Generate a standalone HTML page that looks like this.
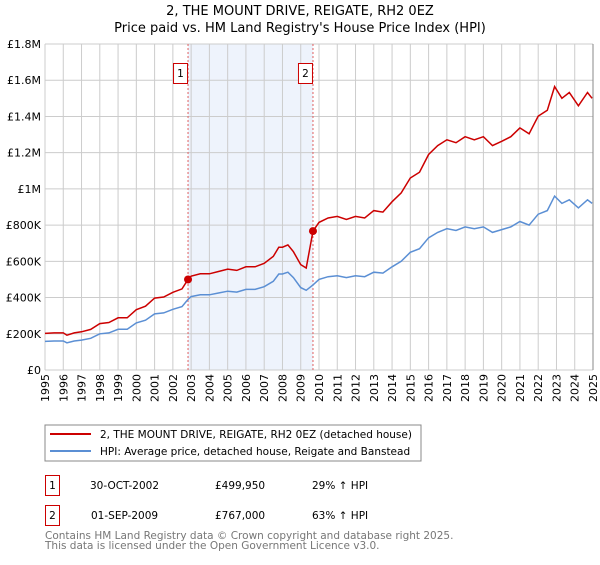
<!DOCTYPE html>
<html><head><meta charset="utf-8"><style>
body{margin:0;background:#fff;font-family:"Liberation Sans","DejaVu Sans",sans-serif;}
svg text{font-family:"DejaVu Sans","Liberation Sans",sans-serif;}
</style></head><body>
<svg id="c" width="600" height="560" xmlns="http://www.w3.org/2000/svg">
<text x="300" y="15" text-anchor="middle" font-size="13" fill="#000">2, THE MOUNT DRIVE, REIGATE, RH2 0EZ</text>
<text x="300" y="32" text-anchor="middle" font-size="13" fill="#000">Price paid vs. HM Land Registry's House Price Index (HPI)</text>
<g id="plot"></g>
<rect x="45" y="425" width="376" height="36" fill="#fff" stroke="#888"/>
<line x1="50" y1="434" x2="91" y2="434" stroke="#cc0000" stroke-width="2"/>
<text x="100" y="438" font-size="10.5">2, THE MOUNT DRIVE, REIGATE, RH2 0EZ (detached house)</text>
<line x1="50" y1="451" x2="91" y2="451" stroke="#5b8fd4" stroke-width="2"/>
<text x="100" y="455" font-size="10.5">HPI: Average price, detached house, Reigate and Banstead</text>
<rect x="45.5" y="475.5" width="14" height="20" fill="#fff" stroke="#cc0000"/>
<text x="52.5" y="489" font-size="10.5" text-anchor="middle">1</text>
<text x="90" y="489" font-size="10.5">30-OCT-2002</text>
<text x="215" y="489" font-size="10.5">£499,950</text>
<text x="312" y="489" font-size="10.5">29% ↑ HPI</text>
<rect x="45.5" y="505.5" width="14" height="20" fill="#fff" stroke="#cc0000"/>
<text x="52.5" y="519" font-size="10.5" text-anchor="middle">2</text>
<text x="91" y="519" font-size="10.5">01-SEP-2009</text>
<text x="215" y="519" font-size="10.5">£767,000</text>
<text x="312" y="519" font-size="10.5">63% ↑ HPI</text>
<text x="45" y="539" font-size="10.5" fill="#777">Contains HM Land Registry data © Crown copyright and database right 2025.</text>
<text x="45" y="549" font-size="10.5" fill="#777">This data is licensed under the Open Government Licence v3.0.</text>
</svg>
<script>
const yTicks=[0,200000,400000,600000,800000,1000000,1200000,1400000,1600000,1800000];
const yLabels=["£0","£200K","£400K","£600K","£800K","£1M","£1.2M","£1.4M","£1.6M","£1.8M"];
const xYears=[1995,1996,1997,1998,1999,2000,2001,2002,2003,2004,2005,2006,2007,2008,2009,2010,2011,2012,2013,2014,2015,2016,2017,2018,2019,2020,2021,2022,2023,2024,2025];
const hpiT=[1995,1995.5,1996,1996.2,1996.6,1997,1997.5,1998,1998.5,1999,1999.5,2000,2000.5,2001,2001.5,2002,2002.5,2002.83,2003,2003.5,2004,2004.5,2005,2005.5,2006,2006.5,2007,2007.5,2007.8,2008,2008.3,2008.6,2009,2009.3,2009.67,2010,2010.5,2011,2011.5,2012,2012.5,2013,2013.5,2014,2014.5,2015,2015.5,2016,2016.5,2017,2017.5,2018,2018.5,2019,2019.5,2020,2020.5,2021,2021.5,2022,2022.5,2022.9,2023.3,2023.7,2024.2,2024.7,2024.95];
const hpiV=[158000,160000,160000,150000,160000,165000,175000,200000,205000,225000,225000,260000,275000,310000,315000,335000,350000,390000,405000,415000,415000,425000,435000,430000,445000,445000,460000,490000,530000,530000,540000,510000,455000,440000,470000,500000,515000,520000,510000,520000,515000,540000,535000,570000,600000,650000,670000,730000,760000,780000,770000,790000,780000,790000,760000,775000,790000,820000,800000,860000,880000,960000,920000,940000,895000,940000,920000];
const redT=hpiT;
const redV=[202000,205000,205000,192000,205000,211000,224000,256000,262000,288000,288000,333000,352000,397000,403000,429000,448000,499950,518000,531000,531000,544000,557000,550000,570000,570000,589000,627000,678000,678000,691000,653000,582000,563000,767000,815000,839000,848000,831000,848000,839000,880000,872000,929000,978000,1060000,1092000,1190000,1239000,1271000,1255000,1288000,1271000,1288000,1239000,1263000,1288000,1337000,1304000,1402000,1434000,1565000,1500000,1532000,1459000,1532000,1500000];
const saleT=[2002.83,2009.67];
const saleV=[499950,767000];
const saleLbl=["1","2"];
const X0=45,X1=593,Y0=370,Y1=44;
const xs=t=>X0+(t-1995)/30*(X1-X0);
const ys=v=>Y0-v/1800000*(Y0-Y1);
const NS="http://www.w3.org/2000/svg";
const g=document.getElementById('plot');
function mk(tag,at){const e=document.createElementNS(NS,tag);for(const k in at)e.setAttribute(k,at[k]);g.appendChild(e);return e;}
let e=mk('rect',{x:xs(saleT[0]),y:Y1,width:xs(saleT[1])-xs(saleT[0]),height:Y0-Y1,fill:'#eef3fc'});


xYears.forEach(y=>{const l=mk('line',{x1:xs(y),x2:xs(y),y1:Y1,y2:Y0,stroke:'#ccc','stroke-width':1});


const t=mk('text',{x:0,y:0,'font-size':11,'text-anchor':'end',transform:`translate(${xs(y)+4},374) rotate(-90)`});t.textContent=y;

});
yTicks.forEach((v,i)=>{const l=mk('line',{x1:X0,x2:X1,y1:ys(v),y2:ys(v),stroke:'#ccc','stroke-width':1});


const t=mk('text',{x:41,y:ys(v)+4,'font-size':11,'text-anchor':'end'});t.textContent=yLabels[i];

});
saleT.forEach((s,i)=>{const l=mk('line',{x1:xs(s),x2:xs(s),y1:Y1,y2:Y0,stroke:'#e06060','stroke-width':1,'stroke-dasharray':'2,2'});


const r=mk('rect',{x:xs(s)-14.5,y:63.5,width:14,height:20,fill:'#fff',stroke:'#cc0000'});


const t=mk('text',{x:xs(s)-7.5,y:77,'font-size':10.5,'text-anchor':'middle'});t.textContent=saleLbl[i];});
const path=(T,V)=>T.map((t,i)=>(i?'L':'M')+xs(t).toFixed(1)+','+ys(V[i]).toFixed(1)).join('');
e=mk('path',{d:path(hpiT,hpiV),fill:'none',stroke:'#5b8fd4','stroke-width':1.5});


e=mk('path',{d:path(redT,redV),fill:'none',stroke:'#cc0000','stroke-width':1.5});


saleT.forEach((s,i)=>{const c=mk('circle',{cx:xs(s),cy:ys(saleV[i]),r:4,fill:'#cc0000'});

});
e=mk('line',{x1:X1,x2:X1,y1:Y1,y2:Y0,stroke:'#888'});


</script>
</body></html>
